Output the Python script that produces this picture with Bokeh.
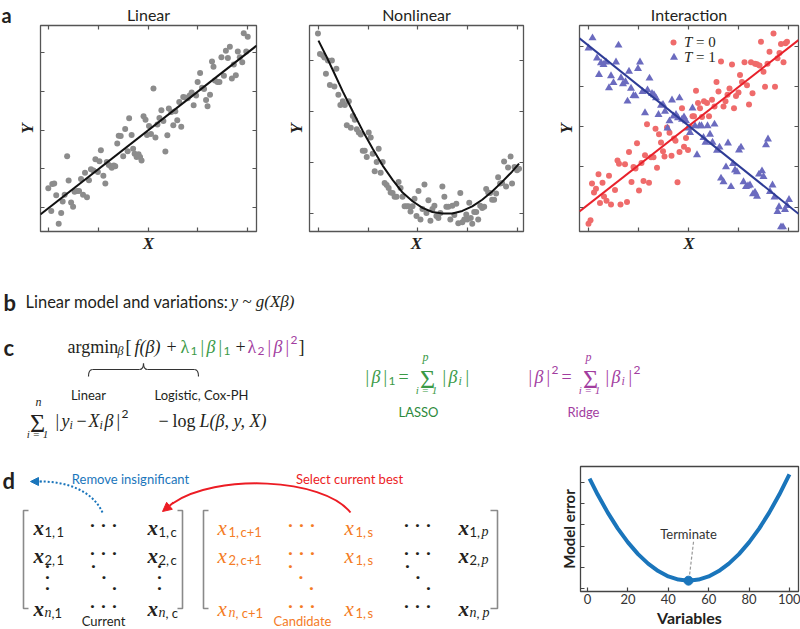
from bokeh.plotting import figure
from bokeh.layouts import column, row
from bokeh.models import Range1d, FixedTicker, LinearAxis, Arrow, NormalHead
from bokeh.core.properties import value
from bokeh.embed import file_html
from bokeh.resources import INLINE

# ---------------- data ----------------
lin_x = [-0.1, 0.5, 0.7, 1.1, 1.5, 2.0, 2.5, 2.8, 3.2, 3.7,
         4.0, 4.5, 4.9, 5.2, 5.7, 6.1, 6.5, 6.9, 7.3, 7.7,
         8.1, 8.5, 9.0, 9.4, 9.9, 10.2, 10.5, 11.0, 11.4, 11.7,
         12.1, 12.5, 12.7, 13.1, 13.4, 13.8, 14.1, 14.5, 15.0, 15.4,
         15.9, 16.2, 16.7, 17.0, 17.3, 17.7, 18.1, 18.4, 18.7, 19.1,
         19.5, 19.8, 20.2, 20.6, 21.1, 21.5, 21.9, 22.3, 22.7, 23.1,
         23.5, 23.9, 24.2, 24.7, 25.1, 25.5, 25.9, 26.3, 26.7, 27.1,
         27.5, 28.0, 28.4, 28.8, 29.2, 29.7, 30.0, 30.5, 30.9, 31.3,
         31.7, 32.0, 32.5, 32.9, 33.2, 33.5, 34.0, 34.4, 34.8, 35.3,
         35.7, 36.1, 36.5, 36.9, 37.3, 37.7, 38.1, 38.5, 39.0, 39.3,
         39.8, 40.1]
lin_y = [5.0, -0.9, 6.1, 6.2, 3.2, -4.2, -1.4, 1.6, 3.3, 13.3,
         7.0, 1.3, 0.2, 4.1, 4.3, 4.3, 7.4, 3.3, 9.0, 2.7,
         7.1, 9.9, 9.6, 12.5, 9.2, 12.0, 14.8, 8.2, 6.2, 11.8,
         11.0, 10.7, 10.3, 10.9, 10.7, 16.6, 18.6, 18.5, 13.3, 20.3,
         14.6, 23.1, 18.8, 15.2, 13.9, 13.1, 13.8, 13.1, 12.2, 23.6,
         22.7, 18.8, 21.1, 19.0, 30.8, 18.1, 21.5, 23.2, 25.2, 22.4,
         14.5, 18.7, 25.6, 24.7, 21.3, 24.9, 22.6, 27.3, 20.9, 28.6,
         28.5, 28.3, 29.0, 29.8, 26.5, 29.0, 32.5, 34.8, 31.0, 30.7,
         27.8, 26.2, 29.2, 37.8, 36.4, 32.9, 32.5, 32.5, 38.9, 34.1,
         40.6, 38.7, 41.6, 33.4, 37.0, 34.2, 40.4, 38.9, 37.6, 45.1,
         40.4, 44.2]
lin_fit_x = [-1.7, 41.9]
lin_fit_y = [-1.8, 41.9]

non_x = [-0.1, 0.3, 0.9, 1.2, 1.5, 1.9, 2.3, 2.7, 3.2, 3.6,
         4.0, 4.4, 4.9, 5.3, 5.7, 6.1, 6.5, 6.9, 7.3, 7.7,
         8.1, 8.5, 8.9, 9.3, 9.7, 10.1, 10.5, 10.9, 11.3, 11.7,
         12.1, 12.5, 12.9, 13.3, 13.7, 14.1, 14.5, 14.9, 15.3, 15.7,
         16.1, 16.5, 16.9, 17.3, 17.7, 18.1, 18.5, 18.9, 19.3, 19.7,
         20.1, 20.5, 20.9, 21.3, 21.7, 22.1, 22.5, 22.9, 23.3, 23.7,
         24.1, 24.5, 24.9, 25.3, 25.7, 26.1, 26.5, 26.9, 27.3, 27.7,
         28.1, 28.5, 28.9, 29.3, 29.7, 29.9, 30.3, 30.6, 30.9, 31.3,
         31.7, 32.1, 32.5, 32.9, 33.3, 33.7, 34.1, 34.5, 34.9, 35.3,
         35.7, 36.1, 36.5, 36.9, 37.3, 37.7, 38.1, 38.6, 38.9, 39.4,
         39.9, 40.3]
non_y = [35.3, 31.3, 31.0, 30.6, 27.4, 30.0, 25.2, 30.0, 24.9, 28.4,
         23.3, 21.3, 22.0, 21.3, 17.3, 22.0, 16.8, 19.1, 18.4, 16.5,
         15.9, 15.5, 12.3, 12.3, 11.1, 15.9, 14.9, 11.7, 8.3, 10.1,
         12.7, 8.0, 10.1, 6.0, 5.6, 5.0, 4.1, 4.0, 3.3, 3.3,
         6.2, 5.0, 3.3, 1.4, 1.4, 1.4, 0.4, 1.4, 2.9, -0.5,
         4.4, -1.2, 0.9, 5.7, 0.1, 2.6, -1.4, 0.9, 1.5, -0.5,
         -0.9, 0.1, 5.3, 3.3, 1.3, 1.3, -1.2, 1.5, -0.3, 1.9,
         -1.9, 4.0, -1.7, -1.2, -0.2, -1.2, 2.1, -0.9, -2.0, 0.3,
         0.3, -1.2, 1.5, 1.1, 1.3, 4.8, 4.1, 4.0, 2.7, 2.7,
         3.9, 7.1, 5.9, 6.0, 10.2, 5.3, 9.0, 11.2, 5.9, 9.1,
         8.5, 8.8]
non_fit_x = [0.0, 1.5, 2.9, 4.9, 6.9, 8.9, 10.9, 12.9, 14.9, 16.9, 18.9,
             20.9, 22.9, 24.9, 26.9, 28.9, 30.9, 32.9, 34.9, 36.9, 38.9, 40.3]
non_fit_y = [33.9, 31.0, 28.1, 23.9, 20.0, 16.2, 12.7, 9.4, 6.6, 4.1, 2.4,
             1.1, 0.3, 0.0, 0.0, 0.5, 1.4, 2.7, 4.3, 6.2, 8.2, 9.8]

t0_x = [0.0, 0.4, 0.7, 1.1, 1.5, 2.0, 2.3, 2.8, 3.1, 3.6,
        4.1, 4.5, 5.3, 5.8, 6.1, 6.4, 7.3, 7.7, 8.1, 8.6,
        9.0, 9.4, 9.7, 10.1, 10.6, 11.0, 11.3, 11.7, 12.1, 12.5,
        13.0, 13.4, 13.7, 14.1, 14.5, 14.9, 15.2, 15.7, 16.2, 16.6,
        17.1, 17.4, 17.8, 18.2, 18.7, 19.1, 19.5, 19.9, 20.4, 20.8,
        21.1, 21.5, 21.9, 22.3, 22.7, 23.1, 23.7, 24.1, 24.7, 25.2,
        25.6, 26.0, 26.5, 27.0, 27.4, 27.8, 28.2, 28.7, 29.1, 29.5,
        30.0, 30.3, 30.7, 31.2, 31.7, 32.1, 32.5, 32.8, 33.3, 33.7,
        34.2, 34.5, 35.0, 35.3, 35.8, 36.2, 37.0, 37.3, 37.8, 38.2,
        38.5, 39.0, 39.4, 39.7]
t0_y = [-4.1, -3.2, 5.9, 3.7, 4.6, 8.2, 1.1, 6.1, 2.7, 1.6,
        7.8, 0.7, 4.3, 11.6, 10.8, 0.7, 10.7, 1.3, 13.7, 6.3,
        10.0, 9.6, 15.9, 4.2, 11.0, 6.5, 12.9, 20.6, 6.1, 12.4,
        12.4, 19.5, 9.8, 18.1, 16.1, 13.9, 12.6, 19.8, 18.5, 12.8,
        17.1, 16.5, 6.2, 13.7, 24.6, 15.0, 17.2, 14.2, 19.9, 22.6,
        22.6, 28.9, 25.9, 24.6, 22.4, 26.3, 25.9, 22.6, 26.7, 25.0,
        31.1, 28.7, 36.2, 25.0, 26.3, 27.9, 29.5, 35.4, 24.6, 27.6,
        28.5, 32.8, 31.1, 36.0, 30.3, 25.5, 36.0, 28.3, 35.6, 35.5,
        35.2, 41.1, 33.6, 29.9, 35.6, 38.6, 43.1, 29.9, 37.0, 38.3,
        40.5, 36.0, 40.7, 41.1]
t1_x = [0.0, 0.8, 1.7, 2.1, 2.5, 3.0, 3.5, 4.1, 4.5, 5.0,
        5.5, 6.0, 6.5, 6.9, 7.4, 7.8, 8.1, 8.5, 9.0, 9.4,
        9.9, 10.3, 10.8, 11.3, 11.8, 12.2, 12.7, 13.1, 13.5, 14.0,
        14.5, 14.9, 15.3, 15.8, 16.2, 16.7, 17.0, 17.5, 17.9, 18.2,
        18.7, 19.1, 19.5, 19.9, 20.3, 20.8, 21.3, 21.7, 22.2, 22.6,
        23.0, 23.4, 23.8, 24.3, 24.8, 25.2, 25.7, 26.2, 26.5, 27.0,
        27.5, 27.9, 28.5, 28.9, 29.3, 29.7, 30.1, 30.5, 31.0, 31.5,
        31.9, 32.3, 32.9, 33.3, 33.7, 34.1, 34.7, 35.0, 35.5, 35.9,
        36.3, 36.8, 37.2, 37.8, 38.1, 38.5, 38.9, 39.3, 39.7, 40.1]
t1_y = [39.5, 42.0, 37.0, 32.9, 35.8, 35.4, 36.0, 29.6, 32.6, 30.9,
        36.0, 40.2, 32.1, 30.6, 31.1, 26.3, 33.7, 29.5, 27.7, 27.6,
        34.4, 36.0, 28.7, 23.4, 29.1, 32.0, 28.2, 27.9, 27.1, 23.0,
        25.3, 25.5, 23.8, 19.6, 21.4, 26.6, 22.6, 23.0, 22.2, 27.1,
        21.8, 22.4, 21.4, 19.6, 18.5, 24.6, 20.2, 13.0, 20.2, 20.2,
        17.3, 16.1, 20.2, 18.1, 16.1, 20.6, 14.1, 14.9, 7.2, 6.3,
        10.0, 15.9, 5.1, 10.8, 9.2, 8.8, 14.2, 14.9, 6.3, 5.1,
        5.3, 5.5, 3.3, 3.7, 2.7, 8.2, 9.0, 7.6, 15.5, 16.9,
        3.9, 5.5, 2.5, -1.1, 0.1, -4.9, -4.9, -0.6, 0.4, 1.9]
fit_int_x = [-1.8, 42.0]
fit_t0_y = [-1.0, 41.5]
fit_t1_y = [41.9, -1.6]
legend_labels = ["T", "T"]
legend_values = ["= 0", "= 1"]

var_x = [1, 5, 10, 15, 20, 25, 30, 35, 40, 45, 50,
         55, 60, 65, 70, 75, 80, 85, 90, 95, 100]
err_y = [5.17, 4.42, 3.57, 2.82, 2.17, 1.62, 1.17, 0.82, 0.57, 0.42, 0.37,
         0.42, 0.57, 0.82, 1.17, 1.62, 2.17, 2.82, 3.57, 4.42, 5.37]
term_x = [50]
term_y = [0.37]
var_ticks = [0, 20, 40, 60, 80, 100]
err_ticks = [0, 1, 2, 3, 4, 5]

# ---------------- style ----------------
SANS = "Lato"
SERIF = "Liberation Serif"
INK = "#231f20"
GREY = "#8c8c8c"
GREEN = "#3a9a46"
GREEN_D = "#2d8a3c"
PURPLE = "#a23d9f"
ORANGE = "#f47c26"
BLUE = "#1a75bb"
RED = "#ec1c24"
PT_RED = "#ef6b6b"
PT_BLUE = "#6b6bbf"


def T(p, x, y, s, font=SANS, size=13, color=INK, style="normal", align="left", baseline="alphabetic"):
    p.text(x=[x], y=[y], text=[s], text_font=value(font), text_font_size=f"{size}px",
           text_color=color, text_font_style=style, text_align=align, text_baseline=baseline)


def canvas(width, height, xr, yr):
    p = figure(width=width, height=height, x_range=Range1d(*xr), y_range=Range1d(*yr), title=None,
               toolbar_location=None, output_backend="svg", x_axis_location=None, y_axis_location=None,
               min_border=0, outline_line_color=None)
    p.grid.visible = False
    return p


def scatter_panel(width, title, xr, yr, bl, br, xt, yt):
    p = figure(width=width, height=255, x_range=Range1d(*xr), y_range=Range1d(*yr),
               toolbar_location=None, output_backend="svg",
               min_border_left=bl, min_border_right=br, min_border_top=23, min_border_bottom=23)
    p.title.text = title
    p.title.align = "center"
    p.title.text_font = SANS
    p.title.text_font_size = "16px"
    p.title.text_font_style = "normal"
    p.title.text_color = INK
    p.title.standoff = 4
    p.grid.visible = False
    p.outline_line_color = "#555555"
    p.outline_line_width = 1.3
    p.add_layout(LinearAxis(), "above")
    p.add_layout(LinearAxis(), "right")
    for ax in p.xaxis:
        ax.ticker = FixedTicker(ticks=xt)
    for ax in p.yaxis:
        ax.ticker = FixedTicker(ticks=yt)
    for ax in p.axis:
        ax.major_tick_in = 4
        ax.major_tick_out = 0
        ax.minor_tick_in = 0
        ax.minor_tick_out = 0
        ax.major_label_text_font_size = "1px"
        ax.major_label_text_color = None
        ax.major_label_standoff = 0
        ax.axis_line_color = None
        ax.major_tick_line_color = "#555555"
        ax.major_tick_line_width = 1.2
    for ax, lab, so in ((p.below[0], "X", 2), (p.left[0], "Y", 4)):
        ax.axis_label = lab
        ax.axis_label_text_font = SERIF
        ax.axis_label_text_font_style = "bold italic"
        ax.axis_label_text_font_size = "17px"
        ax.axis_label_text_color = INK
        ax.axis_label_standoff = so
    return p


# ---------------- panel a ----------------
f_a = canvas(14, 255, (0, 14), (255, 0))
T(f_a, 1, 14, "a", SANS, 20, style="bold")

f_lin = scatter_panel(269, "Linear", (-1.67, 41.87), (-6.19, 47.1), 24, 27,
                      [0, 10, 20, 30, 40], [0, 10, 20, 30, 40])
f_lin.scatter(lin_x, lin_y, size=6, color=GREY, line_color=None)
f_lin.line(lin_fit_x, lin_fit_y, line_color="#111111", line_width=2)

f_non = scatter_panel(267, "Nonlinear", (-1.8, 41.2), (-3.53, 36.87), 25, 27,
                      [0, 10, 20, 30, 40], [0, 10, 20, 30])
f_non.scatter(non_x, non_y, size=6, color=GREY, line_color=None)
f_non.line(non_fit_x, non_fit_y, line_color="#111111", line_width=2)

f_int = scatter_panel(250, "Interaction", (-1.8, 42.0), (-6.0, 45.1), 29, 2,
                      [0, 10, 20, 30, 40], [0, 10, 20, 30, 40])
f_int.scatter(t0_x, t0_y, size=6, marker="circle", color=PT_RED, line_color=None)
f_int.scatter(t1_x, t1_y, size=8, marker="triangle", color=PT_BLUE, line_color=None)
f_int.line(fit_int_x, fit_t0_y, line_color="#e8212b", line_width=2)
f_int.line(fit_int_x, fit_t1_y, line_color="#2e3c96", line_width=2)
# legend (key marks + labels)
f_int.scatter([17.0], [40.9], size=6, marker="circle", color=PT_RED, line_color=None)
f_int.scatter([17.1], [37.2], size=8, marker="triangle", color=PT_BLUE, line_color=None)
for yy, lab, val in ((40.9, legend_labels[0], legend_values[0]), (37.2, legend_labels[1], legend_values[1])):
    T(f_int, 19.1, yy, lab, SERIF, 15, INK, "italic", baseline="middle")
    T(f_int, 21.5, yy, val, SERIF, 15, INK, baseline="middle")

# ---------------- panels b, c ----------------
fm = canvas(800, 185, (0, 800), (440, 255))

T(fm, 3, 302, "b", SANS, 22, style="bold")
T(fm, 25, 301, "Linear model and variations:", SANS, 16.5)
T(fm, 230, 301, "y ~ g(Xβ)", SERIF, 17, style="italic")

BC = 346
T(fm, 3, BC + 1, "c", SANS, 22, style="bold")
T(fm, 67, BC, "argmin", SERIF, 18)
T(fm, 117, BC + 4, "β", SERIF, 12, style="italic")
T(fm, 125, BC, "[", SERIF, 18)
T(fm, 134, BC, "f(β)", SERIF, 18, style="italic")
T(fm, 166, BC, "+", SERIF, 18)
T(fm, 180, BC, "λ", SERIF, 18, GREEN)
T(fm, 190, BC + 4, "1", SANS, 12, GREEN)
T(fm, 200, BC, "|", SERIF, 18, GREEN)
T(fm, 206, BC, "β", SERIF, 18, GREEN, "italic")
T(fm, 218, BC, "|", SERIF, 18, GREEN)
T(fm, 223, BC + 4, "1", SANS, 12, GREEN)
T(fm, 235, BC, "+", SERIF, 18)
T(fm, 247, BC, "λ", SERIF, 18, PURPLE)
T(fm, 257, BC + 4, "2", SANS, 12, PURPLE)
T(fm, 267, BC, "|", SERIF, 18, PURPLE)
T(fm, 273, BC, "β", SERIF, 18, PURPLE, "italic")
T(fm, 285, BC, "|", SERIF, 18, PURPLE)
T(fm, 290, BC - 7, "2", SANS, 12, PURPLE)
T(fm, 298, BC, "]", SERIF, 18)

# brace under f(beta)
bc = "#333333"
fm.bezier(x0=[88, 139, 143, 194], y0=[376, 369, 363, 369],
          x1=[92, 143, 147, 198], y1=[369, 363, 369, 376],
          cx0=[88, 142, 143, 197], cy0=[371, 369, 366, 369],
          cx1=[89, 143, 144, 198], cy1=[369, 366, 369, 371], line_color=bc, line_width=1.2)
fm.segment(x0=[92, 147], y0=[369, 369], x1=[139, 194], y1=[369, 369], line_color=bc, line_width=1.2)
T(fm, 88, 394, "Linear", SANS, 13, align="center")
T(fm, 201, 394, "Logistic, Cox-PH", SANS, 13, align="center")

BS = 420
T(fm, 38, 401, "n", SERIF, 12, style="italic", align="center")
T(fm, 37, 423, "Σ", SERIF, 26, align="center")
T(fm, 37, 433, "i = 1", SERIF, 11, style="italic", align="center")
T(fm, 55, BS, "|", SERIF, 18)
T(fm, 61, BS, "y", SERIF, 18, style="italic")
T(fm, 69, BS + 4, "i", SERIF, 12, style="italic")
T(fm, 76, BS, "−", SERIF, 18)
T(fm, 88, BS, "X", SERIF, 18, style="italic")
T(fm, 99, BS + 4, "i", SERIF, 12, style="italic")
T(fm, 104, BS, "β", SERIF, 18, style="italic")
T(fm, 116, BS, "|", SERIF, 18)
T(fm, 121, BS - 7, "2", SANS, 12)
T(fm, 158, BS, "−", SERIF, 18)
T(fm, 172, BS, "log", SERIF, 18)
T(fm, 199, BS, "L(β, y, X)", SERIF, 18, style="italic")

BL = 376
for (xb, col, e1, e2, sig, lab, labx) in ((365, GREEN, "1", "", 427, "LASSO", 418),
                                         (528, PURPLE, "2", "2", 590, "Ridge", 583)):
    T(fm, xb, BL, "|", SERIF, 18, col)
    T(fm, xb + 6, BL, "β", SERIF, 18, col, "italic")
    T(fm, xb + 18, BL, "|", SERIF, 18, col)
    if e1 == "1":
        T(fm, xb + 23, BL + 4, "1", SANS, 12, col)
    else:
        T(fm, xb + 23, BL - 7, "2", SANS, 12, col)
    T(fm, xb + 33, BL, "=", SERIF, 18, col)
    T(fm, sig, BL + 3, "Σ", SERIF, 26, col, align="center")
    T(fm, sig - 2, 356, "p", SERIF, 12, col, "italic", align="center")
    T(fm, sig - 1, 389, "i = 1", SERIF, 11, col, "italic", align="center")
    T(fm, sig + 15, BL, "|", SERIF, 18, col)
    T(fm, sig + 21, BL, "β", SERIF, 18, col, "italic")
    T(fm, sig + 31, BL + 4, "i", SERIF, 12, col, "italic")
    T(fm, sig + 38, BL, "|", SERIF, 18, col)
    if e2:
        T(fm, sig + 43, BL - 7, "2", SANS, 12, col)
    T(fm, labx, 411, lab, SANS, 13, GREEN_D if lab == "LASSO" else PURPLE, align="center")

# ---------------- panel d: matrices ----------------
fd = canvas(540, 189, (0, 540), (629, 440))

T(fd, 2, 480, "d", SANS, 22, style="bold")
T(fd, 130, 478, "Remove insignificant", SANS, 13, BLUE, align="center", baseline="middle")
T(fd, 349, 478, "Select current best", SANS, 13, RED, align="center", baseline="middle")

fd.bezier(x0=[102], y0=[512], x1=[40], y1=[481], cx0=[92], cy0=[490], cx1=[66], cy1=[481],
          line_color=BLUE, line_width=2, line_dash="2 2")
fd.add_layout(Arrow(end=NormalHead(size=8, fill_color=BLUE, line_color=BLUE),
                    x_start=41, y_start=481, x_end=30, y_end=481, line_color=BLUE, line_width=2,
                    line_dash="2 2"))
fd.bezier(x0=[350], y0=[512], x1=[172], y1=[503], cx0=[322], cy0=[477], cx1=[215], cy1=[473],
          line_color=RED, line_width=2)
fd.add_layout(Arrow(end=NormalHead(size=9, fill_color=RED, line_color=RED),
                    x_start=173, y_start=502, x_end=162, y_end=511, line_color=RED, line_width=2))

fd.multi_line(xs=[[28, 23, 23, 28], [177, 182, 182, 177], [208, 203, 203, 208], [490, 497, 497, 490]],
              ys=[[510, 510, 608, 608]] * 4, line_color="#8a8a8a", line_width=1.6)


def entry(x, y, first, second, color, bold=True):
    T(fd, x, y, "x", SERIF, 21, color, "bold italic" if bold else "italic")
    sx = x + 11
    if first == "n":
        T(fd, sx, y + 4, "n", SERIF, 14, color, "italic")
        sx += 7
        rest = ("," if second == "1" else ", ")
    else:
        T(fd, sx, y + 4, first + ", ", SANS, 13, color)
        sx += 12
        rest = ""
    if second == "p":
        if rest:
            T(fd, sx, y + 4, rest, SANS, 13, color)
            sx += 6
        T(fd, sx, y + 4, "p", SERIF, 14, color, "italic")
    else:
        T(fd, sx, y + 4, rest + second, SANS, 13, color)


for y, s in zip([527, 555, 608], ["1", "2", "n"]):
    entry(33, y, s, "1", INK)
    entry(147, y, s, "c", INK)
    entry(217, y, s, "c+1", ORANGE, bold=False)
    entry(344, y, "1", "s", ORANGE, bold=False)
    entry(458, y, s, "p", INK)
    for dx in (0, 11, 22):
        T(fd, 92 + dx, y - 4, "·", SANS, 16, INK, "bold", align="center", baseline="middle")
        T(fd, 290 + dx, y - 4, "·", SANS, 16, ORANGE, "bold", align="center", baseline="middle")
        T(fd, 406 + dx, y - 4, "·", SANS, 16, INK, "bold", align="center", baseline="middle")

for i, yy in enumerate((564, 575, 586)):
    T(fd, 47, yy, "·", SANS, 16, INK, "bold", align="center", baseline="middle")
    T(fd, 159, yy, "·", SANS, 16, INK, "bold", align="center", baseline="middle")
    T(fd, 93 + 10.5 * i, yy, "·", SANS, 16, INK, "bold", align="center", baseline="middle")
    T(fd, 290 + 10.5 * i, yy, "·", SANS, 16, ORANGE, "bold", align="center", baseline="middle")
    T(fd, 407 + 10.5 * i, yy, "·", SANS, 16, INK, "bold", align="center", baseline="middle")

T(fd, 103, 620, "Current", SANS, 13, INK, align="center", baseline="middle")
T(fd, 302, 620, "Candidate", SANS, 13, ORANGE, align="center", baseline="middle")

# ---------------- panel d: error curve ----------------
fc = figure(width=260, height=189, x_range=Range1d(-3.5, 104.5), y_range=Range1d(-0.14, 5.74), title=None,
            toolbar_location=None, output_backend="svg",
            min_border_left=40, min_border_right=2, min_border_top=26, min_border_bottom=0)
fc.grid.visible = False
fc.outline_line_color = "#444444"
fc.outline_line_width = 1.3
fc.xaxis.ticker = FixedTicker(ticks=var_ticks)
fc.yaxis.ticker = FixedTicker(ticks=err_ticks)
for ax in fc.axis:
    ax.major_tick_in = 4
    ax.major_tick_out = 0
    ax.minor_tick_in = 0
    ax.minor_tick_out = 0
    ax.axis_line_color = None
    ax.major_tick_line_color = "#444444"
    ax.major_tick_line_width = 1.2
    ax.axis_label_text_font = SANS
    ax.axis_label_text_font_style = "bold"
    ax.axis_label_text_color = INK
fc.xaxis.major_label_text_font = SANS
fc.xaxis.major_label_text_font_size = "13px"
fc.xaxis.major_label_text_color = "#333333"
fc.xaxis.major_label_standoff = 2
fc.xaxis.axis_label = "Variables"
fc.xaxis.axis_label_text_font_size = "16px"
fc.xaxis.axis_label_standoff = 1
fc.yaxis.major_label_text_font_size = "1px"
fc.yaxis.major_label_text_color = None
fc.yaxis.major_label_standoff = 0
fc.yaxis.axis_label = "Model error"
fc.yaxis.axis_label_text_font_size = "15px"
fc.yaxis.axis_label_standoff = 3

fc.line(var_x, err_y, line_color=BLUE, line_width=4)
fc.scatter(term_x, term_y, size=9, color=BLUE)
fc.segment(x0=[52.5], y0=[2.2], x1=[50.5], y1=[0.62], line_color="#999999", line_width=1.2, line_dash="3 2")
T(fc, 50, 2.55, "Terminate", SANS, 13, "#333333", align="center", baseline="middle")

layout = column(row(column(f_a), f_lin, f_non, f_int), fm, row(fd, column(fc)))
open("out.html", "w").write(file_html(layout, INLINE))
